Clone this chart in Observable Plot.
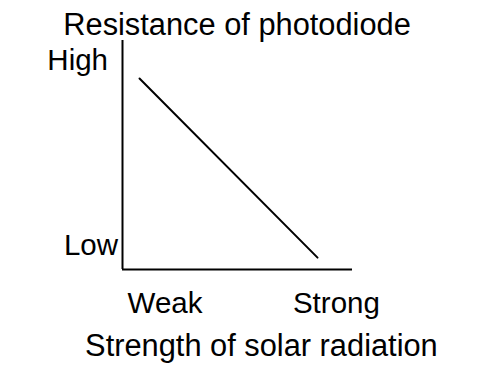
<!DOCTYPE html>
<html>
<head>
<meta charset="utf-8">
<script src="https://cdn.jsdelivr.net/npm/d3@7"></script>
<script src="https://cdn.jsdelivr.net/npm/@observablehq/plot@0.6"></script>
<style>
  html, body { margin: 0; padding: 0; background: #fff; }
  #chart svg { display: block; }
</style>
</head>
<body>
<div id="chart"></div>
<script>
// Qualitative relation: resistance falls as solar radiation strengthens
const strength = [0.074, 0.848];
const resistance = [0.834, 0.052];
const yTickLabels = ["High", "Low"];
const xTickLabels = ["Weak", "Strong"];
const title = "Resistance of photodiode";
const xTitle = "Strength of solar radiation";

const lineData = strength.map((s, i) => ({x: s, y: resistance[i]}));

const font = "Liberation Sans, Arial, sans-serif";
const tickSize = 29.5;
const titleSize = 30.8;
const plot = Plot.plot({
  width: 480,
  height: 372,
  marginLeft: 122,
  marginRight: 128,
  marginTop: 40,
  marginBottom: 103,
  x: {domain: [0, 1], axis: null},
  y: {domain: [0, 1], axis: null},
  style: {fontFamily: font, background: "#fff", color: "#000"},
  marks: [
    Plot.ruleX([0], {y1: 0, y2: 1, stroke: "#000", strokeWidth: 2}),
    Plot.ruleY([0], {x1: 0, x2: 1, stroke: "#000", strokeWidth: 2}),
    Plot.line(lineData, {x: "x", y: "y", stroke: "#000", strokeWidth: 2}),
    Plot.text([yTickLabels[0]], {x: 0, y: 0.869, text: d => d, textAnchor: "end", lineAnchor: "bottom", dx: -14.5, fontSize: tickSize, fill: "#000"}),
    Plot.text([yTickLabels[1]], {x: 0, y: 0.0655, text: d => d, textAnchor: "end", lineAnchor: "bottom", dx: -4.5, fontSize: tickSize, fill: "#000"}),
    Plot.text([xTickLabels[0]], {x: 0.185, y: 0, text: d => d, textAnchor: "middle", lineAnchor: "bottom", dy: 43, fontSize: tickSize, fill: "#000"}),
    Plot.text([xTickLabels[1]], {x: 0.93, y: 0, text: d => d, textAnchor: "middle", lineAnchor: "bottom", dy: 43, fontSize: tickSize, fill: "#000"}),
    Plot.text([title], {x: 0.498, y: 1, text: d => d, textAnchor: "middle", lineAnchor: "bottom", dy: -6, fontSize: titleSize, fill: "#000"}),
    Plot.text([xTitle], {x: 0.604, y: 0, text: d => d, textAnchor: "middle", lineAnchor: "bottom", dy: 86, fontSize: titleSize, fill: "#000"})
  ]
});
document.getElementById("chart").appendChild(plot);
</script>
</body>
</html>
